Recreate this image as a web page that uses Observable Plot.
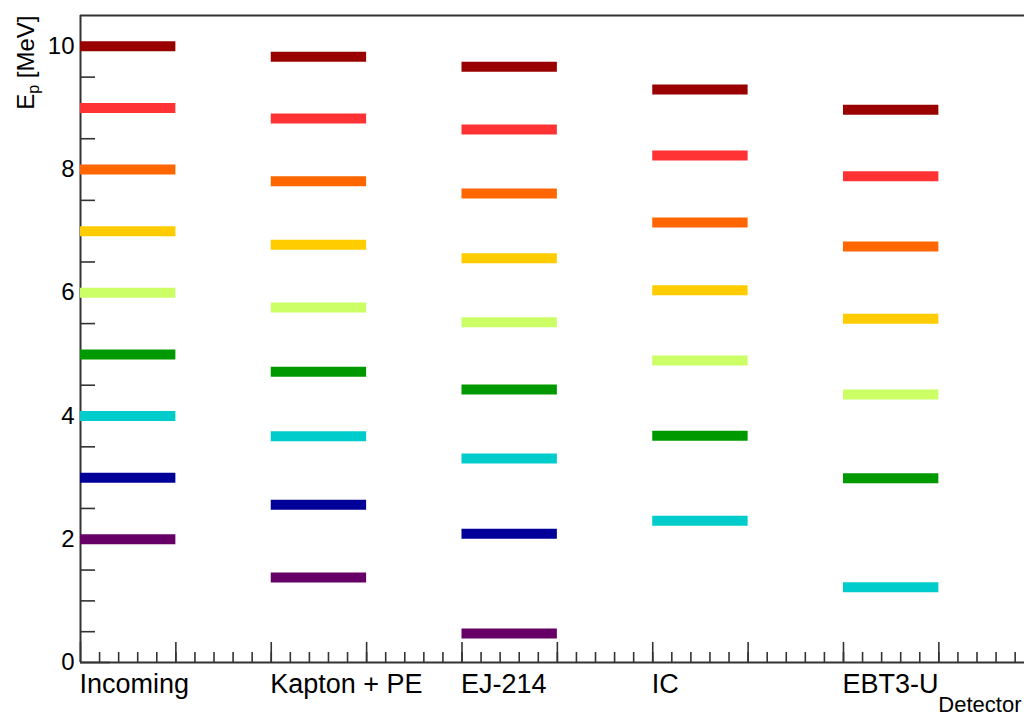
<!DOCTYPE html>
<html><head><meta charset="utf-8">
<script src="https://cdn.jsdelivr.net/npm/d3@7"></script>
<script src="https://cdn.jsdelivr.net/npm/@observablehq/plot@0.6"></script>
<style>
html,body{margin:0;padding:0;background:#fff;overflow:hidden;}
#chart svg{overflow:visible;}
</style></head><body><div id="chart"></div>
<script>
const detectors = ["Incoming", "Kapton + PE", "EJ-214", "IC", "EBT3-U"];
const energies = [10, 9, 8, 7, 6, 5, 4, 3, 2];
const colors = ["#990000", "#ff3333", "#ff6600", "#ffcc00", "#ccff66", "#009900", "#00cccc", "#000099", "#660066"];
const incoming = [10, 9, 8, 7, 6, 5, 4, 3, 2];
const kaptonPE = [9.83, 8.83, 7.81, 6.78, 5.76, 4.72, 3.67, 2.56, 1.38];
const ej214 = [9.67, 8.65, 7.61, 6.56, 5.52, 4.43, 3.31, 2.09, 0.47];
const ic = [9.30, 8.23, 7.14, 6.04, 4.90, 3.68, 2.30, null, null];
const ebt3u = [8.97, 7.89, 6.75, 5.58, 4.35, 2.99, 1.22, null, null];
const yTicks = [0, 2, 4, 6, 8, 10];
const yMinorTicks = d3.range(1, 21).map(k => k / 2);
const xMajorTicks = d3.range(0, 10);
const xMinorTicks = d3.range(1, 50).map(k => k / 5);
const yLabelMain = "E", yLabelSub = "p", yLabelUnit = " [MeV]";
const xTitle = "Detector";

const series = [incoming, kaptonPE, ej214, ic, ebt3u];
const rows = [];
series.forEach((vals, i) => vals.forEach((v, j) => {
  if (v != null) rows.push({det: i, e: energies[j], v});
}));
const labels = detectors.map((d, i) => ({name: d, pos: 2 * i}));

const axisColor = "#333";
const chart = Plot.plot({
  width: 1024, height: 717,
  marginLeft: 80, marginRight: 0, marginTop: 15, marginBottom: 55,
  style: {fontFamily: "'Liberation Sans', Arial, sans-serif", fontSize: "24px", color: "#000", background: "#fff"},
  x: {domain: [0, 9.898], axis: null},
  y: {domain: [0, 10.5], axis: null},
  color: {type: "ordinal", domain: energies, range: colors},
  marks: [
    Plot.axisY(yMinorTicks, {tickSize: 15, dx: 15, tickFormat: () => "", label: null, stroke: axisColor, strokeWidth: 1.6}),
    Plot.axisY(yTicks, {tickSize: 30, dx: 30, tickFormat: () => "", label: null, stroke: axisColor, strokeWidth: 1.6}),
    Plot.axisY(yTicks, {tickSize: 0, tickPadding: 6, tickFormat: d3.format("d"), label: null, fontSize: 24, fill: "#000"}),
    Plot.axisX(xMinorTicks, {tickSize: 10, dy: -10, tickFormat: () => "", label: null, stroke: axisColor, strokeWidth: 1.6}),
    Plot.axisX(xMajorTicks, {tickSize: 20, dy: -20, tickFormat: () => "", label: null, stroke: axisColor, strokeWidth: 1.6}),
    Plot.ruleX([0], {stroke: axisColor, strokeWidth: 2}),
    Plot.ruleY([0, 10.5], {stroke: axisColor, strokeWidth: 2}),
    Plot.ruleY(rows, {y: "v", x1: d => 2 * d.det, x2: d => 2 * d.det + 1, stroke: d => d.e, strokeWidth: 10}),
    Plot.text(labels, {x: "pos", y: () => 0, text: "name", textAnchor: "start", lineAnchor: "bottom", dy: 30, dx: -1, fontSize: 27, fill: "#000"}),
    Plot.text([xTitle], {frameAnchor: "bottom-right", textAnchor: "end", lineAnchor: "bottom", dx: -3, dy: 49, fontSize: 22, fill: "#000"}),
    Plot.text([yLabelMain + yLabelSub + yLabelUnit], {frameAnchor: "top-left", rotate: -90, textAnchor: "end", lineAnchor: "bottom", dx: -47, dy: 0, fontSize: 24, fill: "#000"})
  ]
});
document.getElementById("chart").appendChild(chart);

// subscript for the y label
const full = yLabelMain + yLabelSub + yLabelUnit;
chart.querySelectorAll("text").forEach(t => {
  if (t.textContent === full) {
    t.textContent = "";
    const ns = "http://www.w3.org/2000/svg";
    const a = document.createElementNS(ns, "tspan"); a.textContent = yLabelMain;
    const b = document.createElementNS(ns, "tspan"); b.textContent = yLabelSub; b.setAttribute("font-size", "16"); b.setAttribute("dy", "5");
    const c = document.createElementNS(ns, "tspan"); c.textContent = yLabelUnit; c.setAttribute("dy", "-5");
    t.append(a, b, c);
  }
});
</script></body></html>
